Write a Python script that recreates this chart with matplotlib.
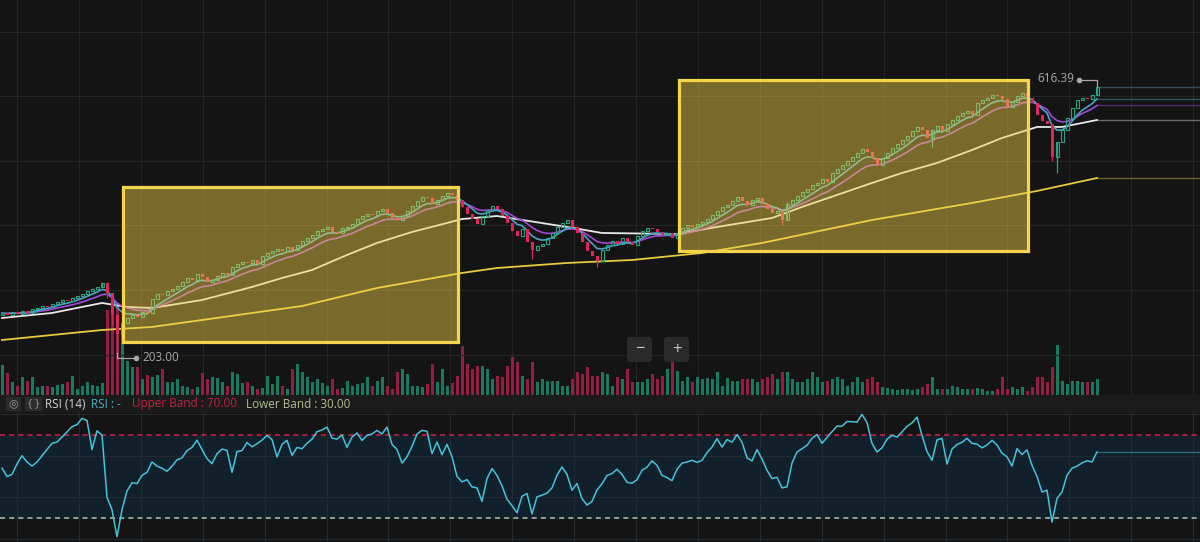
import numpy as np
import matplotlib.pyplot as plt
from matplotlib.patches import Rectangle, FancyBboxPatch
from matplotlib.lines import Line2D

plt.rcParams['font.family'] = ['Open Sans', 'DejaVu Sans']

## Data (weekly-ish candles, oldest first)
close = [
    264, 262, 266, 263, 267, 265, 270, 272, 275, 274,
    279, 281, 284, 283, 287, 290, 294, 298, 302, 305,
    311, 296, 262, 232, 249, 256, 262, 258, 266, 264,
    286, 294, 292, 298, 302, 306, 312, 318, 316, 325,
    320, 312, 316, 322, 326, 324, 336, 340, 344, 342,
    346, 340, 352, 358, 360, 363, 360, 367, 362, 370,
    376, 381, 386, 392, 395, 397, 390, 388, 396, 398,
    403, 410, 415, 418, 416, 422, 426, 419, 411, 408,
    414, 422, 430, 438, 444, 442, 434, 440, 446, 451,
    447, 440, 428, 418, 410, 402, 414, 424, 430, 426,
    414, 404, 392, 384, 394, 375, 362, 368, 372, 380,
    388, 398, 404, 408, 398, 388, 374, 360, 352, 345,
    362, 370, 376, 372, 380, 374, 370, 384, 392, 396,
    394, 390, 386, 388, 380, 388, 396, 400, 398, 403,
    406, 410, 416, 422, 428, 432, 438, 444, 438, 432,
    440, 442, 434, 426, 420, 422, 408, 434, 440, 446,
    452, 456, 462, 466, 472, 468, 482, 488, 494, 500,
    506, 512, 518, 514, 504, 494, 504, 512, 520, 526,
    532, 538, 546, 552, 548, 536, 548, 554, 546, 558,
    564, 570, 574, 578, 572, 590, 594, 598, 602, 600,
    596, 584, 592, 600, 606, 598, 590, 572, 562, 558,
    506, 530, 548, 566, 582, 594, 598, 596, 602, 615,
]
first_open = 262

volume = [
    30, 22, 13, 9, 18, 14, 18, 8, 9, 9,
    8, 10, 11, 13, 19, 6, 9, 13, 10, 9,
    12, 85, 95, 92, 62, 34, 28, 28, 16, 20,
    18, 20, 26, 13, 13, 16, 9, 8, 6, 8,
    22, 16, 18, 17, 13, 9, 23, 21, 12, 13,
    9, 6, 7, 19, 11, 19, 9, 6, 26, 31,
    23, 18, 13, 16, 12, 9, 16, 6, 7, 14,
    9, 11, 12, 18, 9, 14, 18, 9, 6, 23,
    26, 21, 9, 9, 8, 11, 31, 13, 26, 9,
    12, 19, 49, 31, 26, 29, 29, 26, 16, 19,
    18, 29, 38, 33, 19, 16, 33, 13, 16, 14,
    14, 14, 9, 9, 16, 23, 21, 28, 19, 19,
    23, 21, 9, 18, 16, 26, 13, 13, 13, 16,
    21, 16, 19, 26, 39, 24, 14, 18, 13, 18,
    16, 17, 16, 23, 9, 17, 14, 14, 16, 16,
    16, 13, 16, 18, 21, 16, 23, 23, 16, 13,
    13, 16, 23, 18, 13, 14, 16, 18, 16, 9,
    13, 18, 13, 16, 18, 13, 8, 7, 6, 5,
    6, 6, 5, 6, 8, 11, 18, 6, 6, 6,
    9, 8, 6, 6, 6, 7, 6, 4, 4, 6,
    18, 6, 8, 6, 8, 4, 8, 18, 18, 13,
    28, 50, 14, 11, 14, 14, 13, 13, 13, 16,
]

rsi = [
    54, 50, 51, 56, 60, 57, 55, 57, 60, 63,
    66, 66.6, 69, 71.5, 74, 75, 78, 77, 63, 72,
    70, 40, 34, 21, 34, 43, 47, 46.6, 50.6, 52,
    57, 55, 54, 52.5, 55, 58, 59, 62.5, 64, 67.5,
    63, 58.6, 56.2, 61, 63.2, 62.6, 52, 62, 62.5, 66.4,
    64.3, 65.8, 67.5, 69.8, 67.8, 59.4, 65.5, 67.4, 60.2, 64,
    63.4, 66, 68, 71.6, 72.4, 73.8, 68.5, 68, 70, 64,
    69, 71, 67.4, 69.8, 70.5, 72.2, 70.5, 73.8, 65.5, 63,
    56.5, 59.5, 64.5, 70.5, 72.2, 71.8, 61, 66.6, 60.5, 65.5,
    59.6, 50, 47.4, 48.5, 45, 44.5, 38, 49, 53.8, 50.5,
    45.5, 39, 36, 32.5, 40.5, 41.8, 32, 40.2, 41, 42,
    44.5, 50.6, 54.6, 51, 43.4, 46.6, 39.4, 36.2, 38, 43.5,
    46.5, 50.5, 51.4, 53.5, 51, 47.2, 46.7, 48.5, 53, 54.5,
    57.5, 55.4, 50.5, 49.5, 48, 53.5, 56.4, 57, 57.8, 56.8,
    57.8, 61.5, 64.2, 68.2, 64.2, 67.8, 66.5, 70.2, 66.5, 59,
    57.5, 63, 58.4, 53, 49, 49.6, 44.5, 45, 56.5, 61.8,
    63.4, 65, 68.4, 70.2, 66, 68.8, 71.6, 74.3, 74.2, 76.5,
    76.4, 76.2, 79.9, 76, 66, 61.8, 63.8, 68, 69.8, 69,
    71.5, 74.2, 75.8, 78.6, 69.8, 62, 57.8, 67.6, 68.4, 56,
    63.2, 65.4, 66.5, 68.4, 66, 65.6, 63.8, 65.2, 67.4, 65.2,
    61.2, 59.5, 55, 63.4, 60.6, 62.8, 55.4, 50, 42.5, 43.4,
    28, 39.4, 42.5, 50.6, 54, 55, 56.5, 57.6, 57, 61.8,
]

## long moving averages, read at a few candles
white_at = [0, 10, 20, 25, 30, 40, 50, 56, 62, 69, 75, 82, 89, 92, 99, 113,
            120, 135, 143, 154, 160, 167, 174, 180, 187, 194, 200, 207, 212, 219]
white_ma = [256.6, 264.4, 279.9, 273.7, 272.1, 284.5, 304.7, 318.6, 331.0,
            354.3, 372.9, 389.9, 403.9, 410.0, 414.7, 397.7, 388.4, 386.8,
            397.7, 411.6, 428.7, 447.3, 465.9, 481.4, 496.9, 517.0, 535.6,
            552.7, 552.7, 563.5]
yellow_at = [0, 20, 30, 40, 60, 75, 92, 99, 113, 126, 140, 152, 174, 194, 207, 219]
yellow_ma = [222.5, 238.0, 242.7, 253.5, 275.2, 303.1, 326.4, 334.1, 341.9,
             346.5, 357.4, 372.9, 408.5, 434.9, 453.5, 473.6]

## notable wicks
wick_low = {21: 288, 22: 246, 23: 203.0, 106: 348, 119: 336, 156: 401,
            186: 522, 210: 500, 211: 481}
wick_high = {20: 313, 21: 312, 92: 440, 157: 436, 219: 616.39}

zones = [(24.2, 91.2, 219.4, 459.6), (135.4, 205.2, 360.5, 625.5)]
price_ticks = [200, 300, 400, 500, 600, 700]
rsi_ticks = [20, 40, 60, 80]
rsi_period = 14
upper_band = 70
lower_band = 30

## Style
W, H = 1200, 542
BG = '#141414'
GRID = '#252525'
GREEN = '#24a884'
RED = '#e3245a'
VGREEN = '#167a5f'
VRED = '#951d43'
TEAL = '#4aa3c6'
PURPLE = '#a24ad3'


def ema(vals, n):
    a = 2.0 / (n + 1)
    out = [vals[0]]
    for v in vals[1:]:
        out.append(out[-1] + a * (v - out[-1]))
    return np.array(out)


def px_axes(top, bottom):
    return fig.add_axes([0, 1 - bottom / H, 1, (bottom - top) / H])


def strip(a):
    a.set_xticks([])
    a.set_yticks([])
    for s in a.spines.values():
        s.set_visible(False)


fig = plt.figure(figsize=(W / 100, H / 100), dpi=100, facecolor=BG)
ax_vol = px_axes(0, 395)
ax = px_axes(0, 395)
ax_hdr = px_axes(395, 413)
ax_rsi = px_axes(413, 542)

n = len(close)
idx = np.arange(n)
c = np.array(close, dtype=float)
o = np.array([first_open] + close[:-1], dtype=float)
up = c >= o
xlim = (-0.4, 239.6)
vgrid = np.arange(3, xlim[1], 12.38)

## volume (behind)
ax_vol.set_facecolor(BG)
ax_vol.bar(idx, volume, width=0.6, color=[VGREEN if u else VRED for u in up], zorder=2)
ax_vol.set_xlim(*xlim)
ax_vol.set_ylim(0, 395)
strip(ax_vol)
for g in vgrid:
    ax_vol.axvline(g, color=GRID, lw=0.8, zorder=0)

## price
ax.patch.set_visible(False)
ax.set_xlim(*xlim)
ax.set_ylim(137.25, 749.5)
strip(ax)
for p in price_ticks:
    ax.axhline(p, color=GRID, lw=0.8, zorder=0)

ax.plot(white_at, white_ma, color='#e8e8e8', lw=1.3, zorder=3)
ax.plot(yellow_at, yellow_ma, color='#e6cc3c', lw=1.3, zorder=3)
fast = ema(close, 6)
slow = ema(close, 12)
ax.plot(idx, slow, color=PURPLE, lw=1.2, zorder=3)
ax.plot(idx, fast, color=TEAL, lw=1.2, zorder=3)

body_lo = np.minimum(o, c)
body_h = np.maximum(np.abs(c - o), 0.9)
for i in sorted(set(wick_low) | set(wick_high)):
    lo = wick_low.get(i, body_lo[i])
    hi = wick_high.get(i, body_lo[i] + body_h[i])
    ax.vlines(i, lo, hi, color=GREEN if up[i] else RED, lw=0.9, zorder=4)
ax.bar(idx[up], body_h[up], bottom=body_lo[up], width=0.6, facecolor='none',
       edgecolor=GREEN, linewidth=0.8, zorder=5)
ax.bar(idx[~up], body_h[~up], bottom=body_lo[~up], width=0.6, color=RED,
       linewidth=0, zorder=5)

## last-value lines to the right edge
for val, col in [(c[-1], '#5f8ea0'), (fast[-1], TEAL), (slow[-1], PURPLE),
                 (white_ma[-1], '#cfcfcf'), (yellow_ma[-1], '#d9c040')]:
    ax.hlines(val, n - 1, xlim[1], color=col, lw=1, alpha=0.45, zorder=2)

## highlighted zones
for x0, x1, y0, y1 in zones:
    ax.add_patch(Rectangle((x0, y0), x1 - x0, y1 - y0,
                           facecolor=(0.96, 0.83, 0.29, 0.45),
                           edgecolor='#f5d34a', lw=2.3, zorder=10))

## high / low labels
to_fig = fig.transFigure.inverted()
LBL = '#a8a8a8'
hi_i = max(wick_high, key=wick_high.get)
lo_i = min(wick_low, key=wick_low.get)

fx, fy = to_fig.transform(ax.transData.transform((hi_i, wick_high[hi_i])))
xs = [fx, fx, fx - 18 / W]
ys = [fy, fy + 6 / H, fy + 6 / H]
fig.add_artist(Line2D(xs, ys, color=LBL, lw=0.9))
fig.add_artist(Line2D([xs[-1]], [ys[-1]], marker='o', ms=3, color=LBL))
fig.text(xs[-1] - 5 / W, ys[-1] + 1 / H, f'{wick_high[hi_i]:.2f}', ha='right',
         va='center', color=LBL, fontsize=8.5)

fx, fy = to_fig.transform(ax.transData.transform((lo_i, wick_low[lo_i])))
xs = [fx, fx, fx + 19 / W]
ys = [fy, fy - 5 / H, fy - 5 / H]
fig.add_artist(Line2D(xs, ys, color=LBL, lw=0.9))
fig.add_artist(Line2D([xs[-1]], [ys[-1]], marker='o', ms=3, color=LBL))
fig.text(xs[-1] + 6 / W, ys[-1], f'{wick_low[lo_i]:.2f}', ha='left',
         va='center', color=LBL, fontsize=8.5)

## zoom buttons
for bx, glyph in [(627, '\u2212'), (664, '+')]:
    fig.add_artist(FancyBboxPatch((bx / 100, 1.80), 0.25, 0.25,
                                  boxstyle='round,pad=0,rounding_size=0.03',
                                  transform=fig.dpi_scale_trans,
                                  facecolor='#2a2a2a', edgecolor='none'))
    fig.text((bx + 12.5) / W, 192.5 / H, glyph, ha='center', va='center',
             color='#c8c8c8', fontsize=12)

## RSI header strip
ax_hdr.set_facecolor('#1b1b1b')
ax_hdr.set_xlim(0, W)
ax_hdr.set_ylim(0, 1)
strip(ax_hdr)
for bx, bw in [(6, 15), (25, 17)]:
    ax_hdr.add_patch(Rectangle((bx, 0.12), bw, 0.76, facecolor='#2b2b2b', edgecolor='none'))
ax_hdr.text(13.5, 0.5, '\u25ce', ha='center', va='center', color='#9a9a9a', fontsize=8)
ax_hdr.text(33.5, 0.5, '{ }', ha='center', va='center', color='#9a9a9a', fontsize=8)
ax_hdr.text(45, 0.5, f'RSI ({rsi_period})', va='center', color='#d4d4d4', fontsize=8.5)
ax_hdr.text(91, 0.5, 'RSI : -', va='center', color='#3fb3c8', fontsize=8.5)
ax_hdr.text(132, 0.5, f'Upper Band : {upper_band:.2f}', va='center', color='#c41f45', fontsize=8.5)
ax_hdr.text(246, 0.5, f'Lower Band : {lower_band:.2f}', va='center', color='#b3bd8c', fontsize=8.5)

## RSI pane
ax_rsi.set_facecolor(BG)
ax_rsi.set_xlim(*xlim)
ax_rsi.set_ylim(18.43, 80.6)
strip(ax_rsi)
ax_rsi.axhspan(lower_band, upper_band, color='#11202a', zorder=0)
for g in vgrid:
    ax_rsi.axvline(g, color='#222a30', lw=0.8, zorder=1)
for t in rsi_ticks:
    ax_rsi.axhline(t, color='#222a30', lw=0.8, zorder=1)
ax_rsi.axhline(upper_band, color='#c41f45', ls=(0, (3, 2.5)), lw=1.2, zorder=2)
ax_rsi.axhline(lower_band, color='#a7b5a0', ls=(0, (3, 2.5)), lw=1.2, zorder=2)
ax_rsi.plot(idx, rsi, color='#46c3d9', lw=1.1, zorder=3)
ax_rsi.hlines(rsi[-1], n - 1, xlim[1], color='#46c3d9', lw=1, alpha=0.45, zorder=2)

fig.savefig('out.png', dpi=100, facecolor=BG)
